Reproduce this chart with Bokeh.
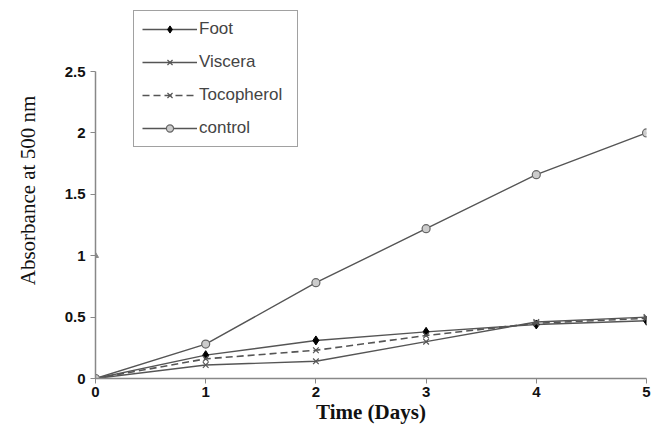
from bokeh.plotting import figure
from bokeh.embed import file_html
from bokeh.resources import INLINE
from bokeh.models import Range1d, FixedTicker, Legend, LegendItem

days = [0, 1, 2, 3, 4, 5]
foot = [0.0, 0.19, 0.31, 0.38, 0.44, 0.47]
viscera = [0.0, 0.11, 0.14, 0.30, 0.46, 0.50]
tocopherol = [0.0, 0.16, 0.23, 0.35, 0.45, 0.49]
control = [0.0, 0.28, 0.78, 1.22, 1.66, 2.0]
stray_x = [0]
stray_y = [1.0]
x_ticks = [0, 1, 2, 3, 4, 5]
y_ticks = [0, 0.5, 1, 1.5, 2, 2.5]

frame_h = 376
y_end = 2.5 * frame_h / 307.0

p = figure(width=656, height=427, frame_width=551, frame_height=frame_h,
           output_backend="svg", toolbar_location=None,
           x_range=Range1d(0, 5), y_range=Range1d(0, y_end),
           min_border_left=95, min_border_right=10, min_border_top=2,
           min_border_bottom=49)
p.outline_line_color = None
p.grid.grid_line_color = None
p.background_fill_color = "white"

lc = "#555555"
r_f = p.line(days, foot, line_color=lc, line_width=1.4)
m_f = p.scatter(days, foot, marker="diamond", size=9, fill_color="black", line_color="black")
r_v = p.line(days, viscera, line_color=lc, line_width=1.4)
m_v = p.scatter(days, viscera, marker="x", size=8, line_color=lc, line_width=1.2)
r_t = p.line(days, tocopherol, line_color=lc, line_width=1.6, line_dash="7 4")
m_t = p.scatter(days, tocopherol, marker="x", size=8, line_color=lc, line_width=1.2)
r_c = p.line(days, control, line_color=lc, line_width=1.4)
m_c = p.scatter(days, control, marker="circle", size=8, fill_color="#cccccc", line_color="#666666", line_width=1.2)
p.scatter(stray_x, stray_y, marker="triangle", size=6, fill_color="#888888", line_color="#888888")

p.xaxis.ticker = FixedTicker(ticks=x_ticks)
p.yaxis.ticker = FixedTicker(ticks=y_ticks)
p.yaxis.bounds = (0, 2.5)
p.yaxis.major_label_overrides = {0: "0", 0.5: "0.5", 1: "1", 1.5: "1.5", 2: "2", 2.5: "2.5"}
for ax in (p.xaxis, p.yaxis):
    ax.axis_line_color = "#888888"
    ax.axis_line_width = 1.5
    ax.major_tick_line_color = "#888888"
    ax.major_tick_in = 0
    ax.major_tick_out = 5
    ax.minor_tick_line_color = None
    ax.major_label_text_font = "Liberation Sans"
    ax.major_label_text_font_style = "bold"
    ax.major_label_text_font_size = "15px"
    ax.major_label_text_color = "#111111"
    ax.axis_label_text_font = "Liberation Serif"
    ax.axis_label_text_color = "#111111"
    ax.axis_label_text_font_size = "21px"

p.xaxis.major_label_standoff = 3
p.xaxis.axis_label = "Time (Days)"
p.xaxis.axis_label_text_font_style = "bold"
p.xaxis.axis_label_standoff = 0
p.yaxis.axis_label = "Absorbance at 500 nm"
p.yaxis.axis_label_text_font_style = "normal"
p.yaxis.axis_label_standoff = 22

legend = Legend(items=[
    LegendItem(label="Foot", renderers=[r_f, m_f]),
    LegendItem(label="Viscera", renderers=[r_v, m_v]),
    LegendItem(label="Tocopherol", renderers=[r_t, m_t]),
    LegendItem(label="control", renderers=[r_c, m_c]),
], location=(38, 231))
legend.border_line_color = "#444444"
legend.border_line_width = 1.2
legend.label_text_font = "Liberation Sans"
legend.label_text_font_size = "17px"
legend.glyph_width = 55
legend.glyph_height = 18
legend.label_height = 18
legend.label_width = 90
legend.spacing = 13
legend.padding = 8
legend.margin = 0
legend.label_standoff = 2
legend.background_fill_alpha = 1.0
p.add_layout(legend, "center")

open("out.html", "w").write(file_html(p, INLINE))
